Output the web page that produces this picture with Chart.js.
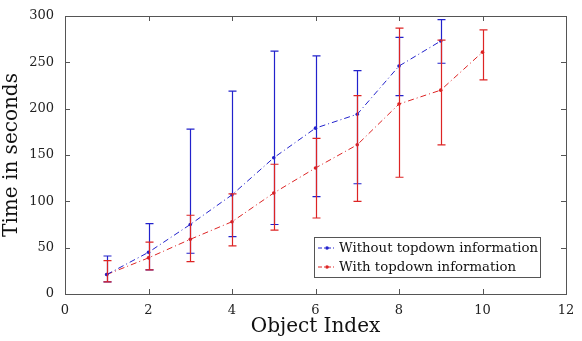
<!DOCTYPE html>
<html>
<head>
<meta charset="utf-8">
<script src="https://cdn.jsdelivr.net/npm/chart.js@4/dist/chart.umd.min.js"></script>
<style>
  html, body { margin: 0; padding: 0; background: #fff; }
  #wrap { width: 582px; height: 341px; }
</style>
</head>
<body>
<div id="wrap"><canvas id="timeChart" width="582" height="341"></canvas></div>
<script>
// object indices
const objIndex = [1, 2, 3, 4, 5, 6, 7, 8, 9, 10];
const xTicks = [0, 2, 4, 6, 8, 10, 12];
const yTicks = [0, 50, 100, 150, 200, 250, 300];

// without topdown information
const noTdMean = [21, 45, 75, 107, 147, 179, 194, 246, 273];
const noTdLow  = [13, 26, 44, 62, 75, 105, 119, 214, 249];
const noTdHigh = [41, 76, 178, 219, 262, 257, 241, 277, 296];

// with topdown information
const tdMean = [21, 39, 59, 78, 109, 136, 161, 205, 220, 261];
const tdLow  = [13, 26, 35, 52, 69, 82, 100, 126, 161, 231];
const tdHigh = [36, 56, 85, 108, 140, 168, 214, 287, 274, 285];

const BLUE = '#2222cc';
const RED = '#dd2424';
const FONT = '"DejaVu Serif", serif';

function pts(mean) {
    return mean.map((v, i) => ({ x: objIndex[i], y: v }));
}

const errBars = [
    { low: noTdLow, high: noTdHigh, color: BLUE },
    { low: tdLow, high: tdHigh, color: RED }
];

const framePlugin = {
    id: 'frame',
    afterDatasetsDraw(chart) {
        const ctx = chart.ctx;
        const xs = chart.scales.x, ys = chart.scales.y;
        const a = chart.chartArea;
        ctx.save();

        // error bars
        errBars.forEach(eb => {
            ctx.strokeStyle = eb.color;
            ctx.lineWidth = 1.2;
            eb.low.forEach((lo, i) => {
                const px = Math.round(xs.getPixelForValue(objIndex[i])) + 0.5;
                const pLo = ys.getPixelForValue(lo);
                const pHi = ys.getPixelForValue(eb.high[i]);
                ctx.beginPath();
                ctx.moveTo(px, pLo); ctx.lineTo(px, pHi);
                ctx.moveTo(px - 4, pLo); ctx.lineTo(px + 4, pLo);
                ctx.moveTo(px - 4, pHi); ctx.lineTo(px + 4, pHi);
                ctx.stroke();
            });
        });

        // box
        ctx.strokeStyle = '#555';
        ctx.lineWidth = 1;
        ctx.strokeRect(a.left + 0.5, a.top + 0.5, a.right - a.left, a.bottom - a.top);

        // inward ticks
        ctx.beginPath();
        xTicks.forEach(t => {
            const px = Math.round(xs.getPixelForValue(t)) + 0.5;
            ctx.moveTo(px, a.bottom); ctx.lineTo(px, a.bottom - 5);
            ctx.moveTo(px, a.top); ctx.lineTo(px, a.top + 5);
        });
        yTicks.forEach(t => {
            const py = Math.round(ys.getPixelForValue(t)) + 0.5;
            ctx.moveTo(a.left, py); ctx.lineTo(a.left + 5, py);
            ctx.moveTo(a.right, py); ctx.lineTo(a.right - 5, py);
        });
        ctx.stroke();

        // legend inside the plot
        const lx = 314, ly = 237, lw = 226, lh = 40;
        ctx.fillStyle = '#fff';
        ctx.fillRect(lx, ly, lw, lh);
        ctx.strokeStyle = '#555';
        ctx.strokeRect(lx + 0.5, ly + 0.5, lw, lh);
        ctx.font = '13.3px ' + FONT;
        ctx.textBaseline = 'middle';
        chart.data.datasets.forEach((ds, i) => {
            const y = ly + 11 + i * 19;
            ctx.strokeStyle = ds.borderColor;
            ctx.setLineDash([4, 2, 1, 2]);
            ctx.beginPath();
            ctx.moveTo(lx + 4, y); ctx.lineTo(lx + 22, y);
            ctx.stroke();
            ctx.setLineDash([]);
            ctx.fillStyle = ds.borderColor;
            ctx.beginPath();
            ctx.arc(lx + 13, y, 1.8, 0, Math.PI * 2);
            ctx.fill();
            ctx.fillStyle = '#111';
            ctx.fillText(ds.label, lx + 25, y + 1);
        });
        ctx.restore();
    }
};

new Chart(document.getElementById('timeChart'), {
    type: 'scatter',
    data: {
        datasets: [
            {
                label: 'Without topdown information',
                data: pts(noTdMean),
                showLine: true,
                borderColor: BLUE,
                backgroundColor: BLUE,
                borderWidth: 1,
                borderDash: [6, 3, 1, 3],
                pointRadius: 1.8,
                pointBorderWidth: 0
            },
            {
                label: 'With topdown information',
                data: pts(tdMean),
                showLine: true,
                borderColor: RED,
                backgroundColor: RED,
                borderWidth: 1,
                borderDash: [6, 3, 1, 3],
                pointRadius: 1.8,
                pointBorderWidth: 0
            }
        ]
    },
    options: {
        responsive: false,
        animation: false,
        layout: { padding: { top: 16, right: 16, left: 0, bottom: 0 } },
        plugins: {
            legend: { display: false },
            tooltip: { enabled: false }
        },
        scales: {
            x: {
                type: 'linear',
                min: 0, max: 12,
                afterBuildTicks: s => { s.ticks = xTicks.map(v => ({ value: v })); },
                afterFit: s => { s.height = 47; },
                grid: { display: false },
                border: { display: false },
                ticks: { color: '#222', font: { family: FONT, size: 13 }, padding: 1 },
                title: { display: true, text: 'Object Index', color: '#111', font: { family: FONT, size: 20 }, padding: { top: 2, bottom: 2 } }
            },
            y: {
                min: 0, max: 300,
                afterBuildTicks: s => { s.ticks = yTicks.map(v => ({ value: v })); },
                afterFit: s => { s.width = 65; },
                grid: { display: false },
                border: { display: false },
                ticks: { color: '#222', font: { family: FONT, size: 13 }, padding: 3 },
                title: { display: true, text: 'Time in seconds', color: '#111', font: { family: FONT, size: 20 }, padding: { top: 0, bottom: 2 } }
            }
        }
    },
    plugins: [framePlugin]
});
</script>
</body>
</html>
